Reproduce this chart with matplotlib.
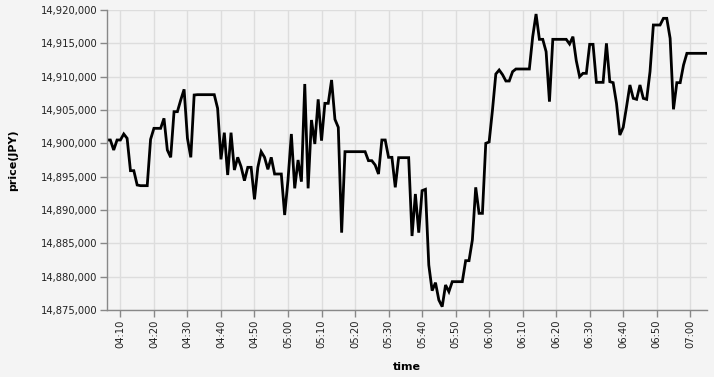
import numpy as np
import pandas as pd
import matplotlib
matplotlib.use('Agg')
import matplotlib.pyplot as plt
import matplotlib.dates as mdates
from matplotlib.ticker import FuncFormatter, MultipleLocator

#----- data (one point per minute, 04:06 - 07:05)
start_time = '2021-01-01 04:06'
price = [
    14900500, 14900500, 14899000, 14900500, 14900500, 14901400, 14900750, 14895900, 14895900, 14893750,
    14893650, 14893650, 14893650, 14900600, 14902250, 14902250, 14902250, 14903750, 14899000, 14897900,
    14904750, 14904750, 14906500, 14908100, 14900750, 14897900, 14907250, 14907300, 14907300, 14907300,
    14907300, 14907300, 14907300, 14905250, 14897600, 14901600, 14895250, 14901600, 14896000, 14897900,
    14896500, 14894400, 14896400, 14896400, 14891600, 14896400, 14898750, 14897900, 14896100, 14897900,
    14895400, 14895400, 14895400, 14889250, 14894500, 14901400, 14893250, 14897500, 14894250, 14908900,
    14893250, 14903500, 14899900, 14906600, 14900400, 14906000, 14906000, 14909500, 14903600, 14902400,
    14886600, 14898750, 14898750, 14898750, 14898750, 14898750, 14898750, 14898750, 14897400, 14897400,
    14896750, 14895400, 14900500, 14900500, 14897900, 14897900, 14893400, 14897850, 14897850, 14897850,
    14897850, 14886100, 14892400, 14886600, 14892900, 14893100, 14881750, 14877900, 14879100, 14876500,
    14875500, 14878750, 14877750, 14879250, 14879250, 14879250, 14879250, 14882400, 14882400, 14885500,
    14893400, 14889500, 14889500, 14900000, 14900200, 14905000, 14910400, 14911000, 14910300, 14909350,
    14909350, 14910750, 14911150, 14911150, 14911150, 14911150, 14911150, 14916000, 14919400, 14915600,
    14915600, 14913750, 14906250, 14915600, 14915600, 14915600, 14915600, 14915600, 14914900, 14916000,
    14912400, 14910000, 14910500, 14910500, 14914850, 14914850, 14909150, 14909150, 14909150, 14915000,
    14909250, 14909100, 14906000, 14901250, 14902400, 14905500, 14908750, 14906750, 14906600, 14908750,
    14906750, 14906600, 14910750, 14917750, 14917750, 14917750, 14918750, 14918750, 14915750, 14905100,
    14909100, 14909100, 14911750, 14913500, 14913500, 14913500, 14913500, 14913500, 14913500, 14913500,
]
time = pd.date_range(start_time, periods=len(price), freq='min')

#----- plot
bg = '#f4f4f4'
fig = plt.figure(figsize=(7.14, 3.77), dpi=100, facecolor=bg)
ax = fig.add_axes([107/714, 67/377, 600/714, 300/377], facecolor=bg)

ax.plot(time, price, color='black', lw=2, solid_joinstyle='miter')

ax.set_xlim(time[0], time[-1])
ax.set_ylim(14875000, 14920000)
ax.yaxis.set_major_locator(MultipleLocator(5000))
ax.yaxis.set_major_formatter(FuncFormatter(lambda v, p: '{:,.0f}'.format(v)))
ax.xaxis.set_major_locator(mdates.MinuteLocator(byminute=range(0, 60, 10)))
ax.xaxis.set_major_formatter(mdates.DateFormatter('%H:%M'))
plt.setp(ax.get_xticklabels(), rotation=90)

ax.grid(True, color='#dddddd', lw=1)
ax.set_axisbelow(True)
for s in ['top', 'right']:
    ax.spines[s].set_visible(False)
for s in ['left', 'bottom']:
    ax.spines[s].set_color('#888888')
    ax.spines[s].set_linewidth(1)
ax.tick_params(axis='both', length=5, width=1, color='#888888', labelsize=7.2,
               labelcolor='#222222', pad=2)

ax.set_xlabel('time', fontsize=8, fontweight='bold', labelpad=10)
ax.set_ylabel('price(JPY)', fontsize=8, fontweight='bold', labelpad=16)

plt.savefig('out.png', dpi=100, facecolor=bg)
